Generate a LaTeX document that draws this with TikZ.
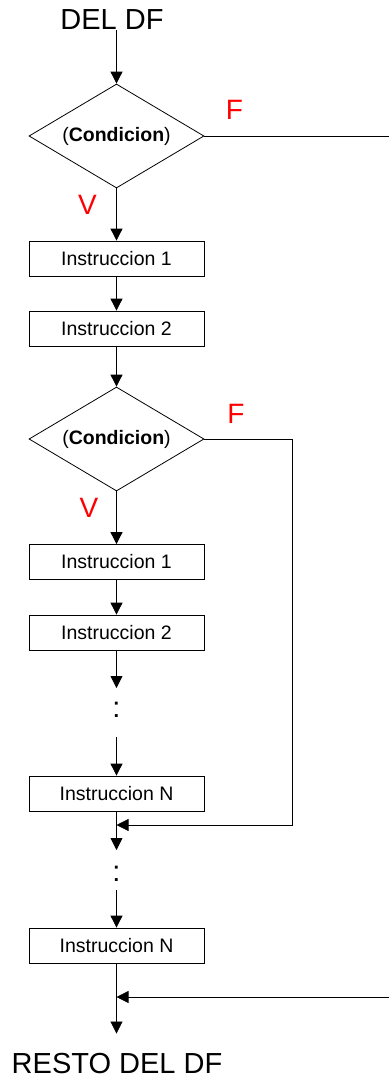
\documentclass[tikz,border=0pt]{standalone}
\usepackage{fontspec}
\setmainfont{Liberation Sans}
\usetikzlibrary{shapes.geometric,arrows.meta}

\begin{document}
\begin{tikzpicture}[x=1pt,y=-1pt,
		instruccion/.style={draw, line width=0.8pt, minimum width=175pt, minimum height=35pt, inner sep=0pt, font=\fontsize{19.5}{23}\selectfont},
		decision/.style={draw, diamond, aspect=1.68, line width=0.8pt, minimum width=175pt, minimum height=104pt, inner sep=0pt, font=\fontsize{19.5}{23}\selectfont},
		etiqueta/.style={text=red, inner sep=0pt, font=\fontsize{28}{32}\selectfont},
		titulo/.style={inner sep=0pt, font=\fontsize{29}{34}\selectfont},
		puntos/.style={anchor=base, inner sep=0pt, font=\fontsize{29}{34}\selectfont},
		flecha/.style={line width=0.8pt, -{Triangle[width=12pt,length=12pt]}},
		linea/.style={line width=0.8pt}]
		\useasboundingbox (0,0) rectangle (389,1077);
		
		% Inicio
		\node[titulo] (ini) at (112,19.7) {DEL DF};
		
		% Primera condicion
		\node[decision] (cond1) at (116.5,136) {(\textbf{Condicion})};
		\node[etiqueta] (F1) at (234.5,110) {F};
		\node[etiqueta] (V1) at (87.5,205) {V};
		\node[instruccion] (inst1a) at (116.5,258.5) {Instruccion 1};
		\node[instruccion] (inst2a) at (116.5,328.5) {Instruccion 2};
		
		% Segunda condicion
		\node[decision] (cond2) at (116.5,439) {(\textbf{Condicion})};
		\node[etiqueta] (F2) at (236,413.5) {F};
		\node[etiqueta] (V2) at (89,508) {V};
		\node[instruccion] (inst1b) at (116.5,562) {Instruccion 1};
		\node[instruccion] (inst2b) at (116.5,632.5) {Instruccion 2};
		\node[puntos] (dots1) at (116.5,717.5) {:};
		\node[instruccion] (instNa) at (116.5,793.5) {Instruccion N};
		
		% Resto
		\node[puntos] (dots2) at (116.5,881.5) {:};
		\node[instruccion] (instNb) at (116.5,945.5) {Instruccion N};
		\node[titulo, anchor=base] (fin) at (117,1073) {RESTO DEL DF};
		
		% Puntos auxiliares
		\coordinate (p1) at (116.5,688);
		\coordinate (p2) at (116.5,737);
		\coordinate (m1) at (116.5,825);
		\coordinate (p3) at (116.5,850);
		\coordinate (p4) at (116.5,890);
		\coordinate (m2) at (116.5,997);
		\coordinate (r1) at (292,439);
		\coordinate (r2) at (292,825);
		\coordinate (e1) at (389,136);
		\coordinate (e2) at (389,997);
		
		% Flujo principal
		\draw[flecha] (ini.south -| cond1.north) -- (cond1.north);
		\draw[flecha] (cond1.south) -- (inst1a.north);
		\draw[flecha] (inst1a.south) -- (inst2a.north);
		\draw[flecha] (inst2a.south) -- (cond2.north);
		\draw[flecha] (cond2.south) -- (inst1b.north);
		\draw[flecha] (inst1b.south) -- (inst2b.north);
		\draw[flecha] (inst2b.south) -- (p1);
		\draw[flecha] (p2) -- (instNa.north);
		\draw[flecha] (instNa.south) -- (p3);
		\draw[flecha] (p4) -- (instNb.north);
		\draw[flecha, shorten >=19pt] (instNb.south) -- (instNb.south |- fin.north);
		
		% Ramas falsas
		\draw[linea] (cond1.east) -- (e1);
		\draw[flecha] (e2) -- (m2);
		\draw[flecha] (cond2.east) -- (r1) -- (r2) -- (m1);
	\end{tikzpicture}
\end{document}
